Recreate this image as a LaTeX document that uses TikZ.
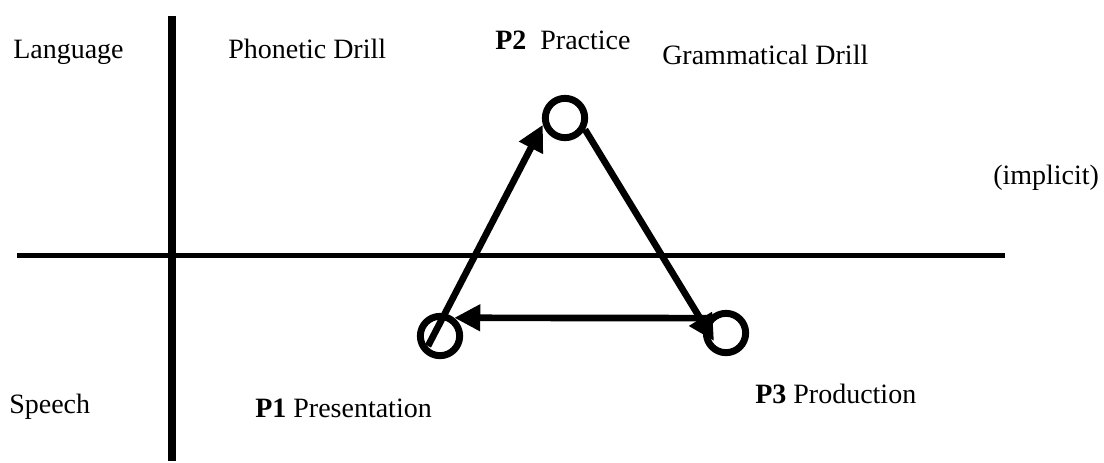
\documentclass[tikz,border=0pt]{standalone}
\usepackage{fontspec}
\setmainfont{Liberation Serif}
\usetikzlibrary{arrows.meta}
\begin{document}
\begin{tikzpicture}[x=0.75pt,y=-0.75pt,
  lbl/.style={anchor=base west, inner sep=0pt, font=\fontsize{21}{25}\selectfont},
  stage/.style={circle, draw, line width=5.2pt, minimum size=29.5pt, inner sep=0pt},
  arr/.style={line width=5pt, -{Triangle[length=19.5pt,width=19pt]}},
  vaxis/.style={line width=6pt},
  haxis/.style={line width=3.75pt}]
\useasboundingbox (0,0) rectangle (1104,462);
% axes
\draw[vaxis] (171.5,16) -- (171.5,461);
\draw[haxis] (17,255.5) -- (1005,255.5);
% stages
\node[stage] (p1) at (440,336) {};
\node[stage] (p2) at (565,118) {};
\node[stage] (p3) at (726,333) {};
\coordinate (s1) at (428,346);
\coordinate (t3) at (714,341);
% arrows
\draw[arr] (s1) -- (p2.197);
\draw[arr] (p2.-30) -- (t3);
\draw[arr] (p3.140) -- (p1.52);
% labels
\node[lbl] (language) at (13,58) {Language};
\node[lbl] (phonetic) at (228,58) {Phonetic Drill};
\node[lbl] (practice) at (495,49) {\textbf{P2}\ \ Practice};
\node[lbl] (grammar) at (662,64) {Grammatical Drill};
\node[lbl] (implicit) at (993,184) {(implicit)};
\node[lbl] (speech) at (9,413) {Speech};
\node[lbl] (present) at (255,417) {\textbf{P1} Presentation};
\node[lbl] (produce) at (755,403) {\textbf{P3} Production};
\end{tikzpicture}
\end{document}
